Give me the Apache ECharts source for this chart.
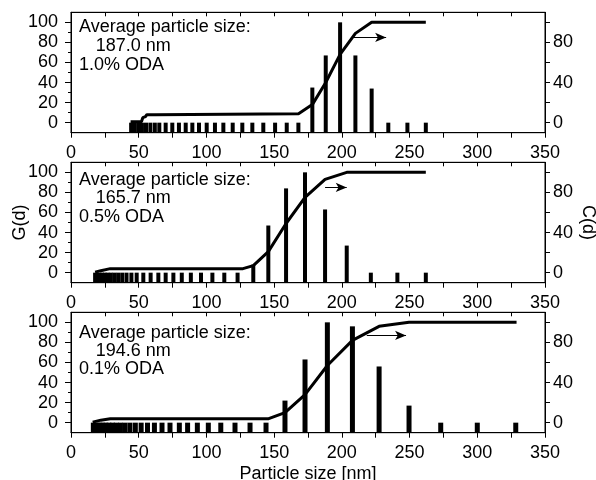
<!DOCTYPE html>
<html>
<head>
<meta charset="utf-8">
<script src="https://cdn.jsdelivr.net/npm/echarts@6/dist/echarts.min.js"></script>
<style>html,body{margin:0;padding:0;background:#fff;}#c{width:596px;height:480px;}</style>
</head>
<body>
<div id="c"></div>
<script>
// ---- data ----
const xTickLabels = [0, 50, 100, 150, 200, 250, 300, 350];
const gTickLabels = [0, 20, 40, 60, 80, 100];
const cTickLabels = [0, 40, 80];

// Panel 1 : 1.0% ODA
const size1 = [44.4, 46.9, 49.6, 52.4, 55.4, 58.6, 61.9, 65.2, 69.9, 74.8, 79.7, 84.7, 89.6, 94.5, 100.2, 106.3, 112.5, 119.4, 126.5, 133.9, 142, 150.7, 159.3, 167.9, 178.2, 188.1, 198.7, 210, 222, 234.3, 248.4, 262];
const g1 = [0,0,0,0,0,0,0,0,0,0,0,0,0,0,0,0,0,0,0,0,0,0,0,0, 35, 67, 100, 67, 34, 0, 0, 0];
const cSize1 = [44, 52, 53, 55, 56, 62, 63, 168, 178.2, 188.1, 198.7, 210, 222, 262];
const c1 = [1, 1, 5, 6, 8, 8, 9, 9, 18, 40, 68, 89, 100, 100];
const arrow1 = [208.5, 232.7, 85];

// Panel 2 : 0.5% ODA
const size2 = [17.8, 19.4, 21, 22.9, 24.9, 27, 29.4, 32, 34.8, 37.8, 41, 44.6, 48.5, 53.4, 58.8, 64.5, 69.9, 75.6, 81.8, 88.5, 96, 104.4, 113.2, 123, 134.6, 145.7, 158.8, 172.8, 187.6, 203.6, 221.4, 241, 262];
const g2 = [0,0,0,0,0,0,0,0,0,0,0,0,0,0,0,0,0,0,0,0,0,0,0,0, 8, 47, 84, 100, 63, 27, 0, 0, 0];
const cSize2 = [17.8, 22, 29, 127, 134.6, 145.7, 158.8, 172.8, 187.6, 203.6, 262];
const c2 = [0.5, 2, 4, 4, 7, 21, 49, 75, 93, 100, 100];
const arrow2 = [187.6, 203.6, 85];

// Panel 3 : 0.1% ODA
const size3 = [16.5, 18, 19.7, 21.5, 23.5, 25.7, 28, 30.6, 33.4, 36.5, 39.8, 43.5, 47.5, 51.8, 56.5, 61.6, 67.2, 73.1, 80, 86.1, 93.3, 101.4, 110.6, 121.1, 132.2, 144, 158, 172.8, 189.3, 207.8, 227.5, 249.6, 273, 300, 328.4];
const g3 = [0,0,0,0,0,0,0,0,0,0,0,0,0,0,0,0,0,0,0,0,0,0,0,0,0,0, 22, 63, 100, 96, 56, 17, 0, 0, 0];
const cSize3 = [16, 22, 29, 146, 158, 172.8, 189.3, 207.8, 227.5, 249.6, 329];
const c3 = [0.5, 2.5, 4, 4, 10, 28, 57, 82, 96, 100, 100];
const arrow3 = [218.4, 247.4, 87];

const notes = [
  ['Average particle size:', '187.0 nm', '1.0% ODA'],
  ['Average particle size:', '165.7 nm', '0.5% ODA'],
  ['Average particle size:', '194.6 nm', '0.1% ODA']
];

// ---- chart ----
const FONT = '"Liberation Sans", Arial, Helvetica, sans-serif';
const FS = 18;
const panels = [
  {size: size1, g: g1, cs: cSize1, c: c1, arrow: arrow1, barW: 4, top: 12.3, notesY: [28, 47.5, 65.8]},
  {size: size2, g: g2, cs: cSize2, c: c2, arrow: arrow2, barW: 4, top: 162.3, notesY: [180.8, 199.5, 218.3]},
  {size: size3, g: g3, cs: cSize3, c: c3, arrow: arrow3, barW: 5, top: 312.3, notesY: [333.8, 352.2, 370.5]}
];

const grid = [], xAxis = [], yAxis = [], series = [], graphic = [];
const axisLineStyle = {color: '#000', width: 1};

panels.forEach((p, i) => {
  grid.push({left: 71, right: 51, top: p.top, height: 120.4, containLabel: false, outerBoundsMode: 'none',
    show: true, borderColor: '#000', borderWidth: 1, backgroundColor: 'transparent'});
  // bottom x axis
  xAxis.push({
    type: 'value', gridIndex: i, min: 0, max: 350, interval: 25, position: 'bottom',
    axisLine: {show: true, onZero: false, lineStyle: axisLineStyle},
    axisTick: {show: true, length: 5, inside: false, lineStyle: axisLineStyle},
    axisLabel: {show: true, margin: 11, color: '#000', fontFamily: FONT, fontSize: FS,
      formatter: v => xTickLabels.indexOf(v) >= 0 ? String(v) : ''},
    splitLine: {show: false},
    name: i === 2 ? 'Particle size [nm]' : '', nameLocation: 'middle', nameGap: 32, nameMoveOverlap: false,
    nameTextStyle: {color: '#000', fontFamily: FONT, fontSize: FS}
  });
  // top x axis (ticks only)
  xAxis.push({
    type: 'value', gridIndex: i, min: 0, max: 350, interval: 25, position: 'top',
    axisLine: {show: true, onZero: false, lineStyle: axisLineStyle},
    axisTick: {show: true, length: 4, inside: true, lineStyle: axisLineStyle},
    axisLabel: {show: false}, splitLine: {show: false}
  });
  // left G(d) axis
  yAxis.push({
    type: 'value', gridIndex: i, min: -10, max: 110, interval: 10, position: 'left',
    axisLine: {show: true, onZero: false, lineStyle: axisLineStyle},
    axisTick: {show: true, length: 6, lineStyle: axisLineStyle, customValues: gTickLabels},
    axisLabel: {show: true, margin: 13, color: '#000', fontFamily: FONT, fontSize: FS,
      formatter: v => gTickLabels.indexOf(v) >= 0 ? String(v) : ''},
    splitLine: {show: false},
    name: i === 1 ? 'G(d)' : '', nameLocation: 'middle', nameGap: 42, nameMoveOverlap: false,
    nameTextStyle: {color: '#000', fontFamily: FONT, fontSize: FS}
  });
  // left minor ticks
  yAxis.push({
    type: 'value', gridIndex: i, min: -10, max: 110, interval: 10, position: 'left',
    axisLine: {show: false},
    axisTick: {show: true, length: 3, lineStyle: axisLineStyle, customValues: [10, 30, 50, 70, 90]},
    axisLabel: {show: false}, splitLine: {show: false}
  });
  // right C(d) axis
  yAxis.push({
    type: 'value', gridIndex: i, min: -10, max: 110, interval: 10, position: 'right',
    axisLine: {show: true, onZero: false, lineStyle: axisLineStyle},
    axisTick: {show: true, length: 5, lineStyle: axisLineStyle, customValues: [0, 20, 40, 60, 80, 100]},
    axisLabel: {show: true, margin: 8, color: '#000', fontFamily: FONT, fontSize: FS,
      formatter: v => cTickLabels.indexOf(v) >= 0 ? String(v) : ''},
    splitLine: {show: false},
    name: i === 1 ? 'C(d)' : '', nameLocation: 'middle', nameGap: 34, nameRotate: -90, nameMoveOverlap: false,
    nameTextStyle: {color: '#000', fontFamily: FONT, fontSize: FS}
  });

  const bw = p.barW;
  series.push({
    type: 'custom', coordinateSystem: 'cartesian2d', xAxisIndex: 2 * i, yAxisIndex: 3 * i,
    data: p.size.map((s, k) => [s, p.g[k]]),
    z: 3,
    renderItem: (params, api) => {
      const t = api.coord([api.value(0), api.value(1)]);
      const b = api.coord([api.value(0), -10]);
      return {type: 'rect', shape: {x: t[0] - bw / 2, y: t[1], width: bw, height: b[1] - t[1]}, style: {fill: '#000'}};
    }
  });
  series.push({
    type: 'line', xAxisIndex: 2 * i, yAxisIndex: 3 * i + 2,
    data: p.cs.map((s, k) => [s, p.c[k]]),
    showSymbol: false, symbol: 'none', z: 4,
    lineStyle: {color: '#000', width: 3}, itemStyle: {color: '#000'},
    markLine: {
      silent: true, symbol: ['none', 'arrow'], symbolSize: [7, 11], animation: false,
      lineStyle: {color: '#000', width: 1, type: 'solid'}, label: {show: false},
      data: [[{coord: [p.arrow[0], p.arrow[2]]}, {coord: [p.arrow[1], p.arrow[2]]}]]
    }
  });

  const nt = notes[i];
  [79, 95.7, 79].forEach((x, k) => {
    graphic.push({type: 'text', left: x, top: p.notesY[k] - FS / 2 - 1, style: {text: nt[k], fill: '#000', font: FS + 'px ' + FONT}});
  });
});

const chart = echarts.init(document.getElementById('c'), null, {renderer: 'canvas'});
chart.setOption({animation: false, grid, xAxis, yAxis, series, graphic});
</script>
</body>
</html>
